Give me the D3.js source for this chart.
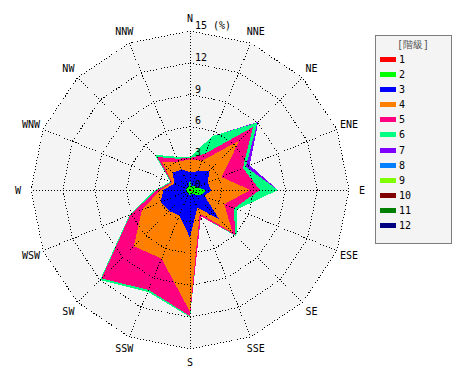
<!DOCTYPE html>
<html>
<head>
<meta charset="utf-8">
<script src="https://cdn.jsdelivr.net/npm/d3@7"></script>
<style>
  html, body { margin: 0; padding: 0; background: #ffffff; }
  svg { display: block; }
  text { font-family: "DejaVu Sans Mono", monospace; font-size: 10px; fill: #000; }
</style>
</head>
<body>
<svg id="chart" width="470" height="380"></svg>
<script>
const directions = ["N","NNE","NE","ENE","E","ESE","SE","SSE","S","SSW","SW","WSW","W","WNW","NW","NNW"];
const classLabels = ["1","2","3","4","5","6","7","8","9","10","11","12"];
const classColors = ["#ff0000","#00ff00","#0000ff","#ff8000","#ff0080","#00ff80","#8000ff","#0080ff","#80ff00","#800000","#008000","#000080"];
const ringTicks = [0, 3, 6, 9, 12, 15];

// frequency (%) per class, by direction N..NNW
const cls1  = [0.1,0.1,0.1,0.1,0.2,0.2,0.1,0.1,0.1,0.1,0.1,0.1,0.1,0.1,0.1,0.1];
const cls2  = [0.8,0.3,0.4,0.6,1.3,1.0,0.5,0.3,0.4,0.3,0.3,0.3,0.3,0.2,0.2,0.3];
const cls3  = [0.8,1.5,2.1,1.1,0.5,0.3,3.3,1.4,4.0,2.2,2.4,2.6,2.1,1.3,2.0,1.7];
const cls4  = [1.2,1.1,4.0,1.4,3.7,2.0,1.8,0.6,7.0,4.4,4.7,1.9,0.3,0.2,1.4,0.8];
const cls5  = [0.1,0.7,1.8,2.2,0.9,1.0,0.3,0.3,0.4,3.2,4.3,1.2,0.3,0.1,0.7,0.3];
const cls6  = [0.1,1.8,0.6,0.3,1.7,0.3,0.2,0.0,0.1,0.2,0.2,0.1,0.2,0.1,0.3,0.2];
const cls7  = [0,0,0.1,0.4,0,0,0,0,0,0,0,0,0,0,0,0];
const cls8  = [0,0,0,0,0,0,0,0,0,0,0,0,0,0,0,0];
const cls9  = [0,0,0,0,0,0,0,0,0,0,0,0,0,0,0,0];
const cls10 = [0,0,0,0,0,0,0,0,0,0,0,0,0,0,0,0];
const cls11 = [0,0,0,0,0,0,0,0,0,0,0,0,0,0,0,0];
const cls12 = [0,0,0,0,0,0,0,0,0,0,0,0,0,0,0,0];
const classValues = [cls1,cls2,cls3,cls4,cls5,cls6,cls7,cls8,cls9,cls10,cls11,cls12];

const svg = d3.select("#chart");
const cx = 190, cy = 190, R = 159;

const rScale = d3.scaleLinear().domain([0, 15]).range([0, R]);
const aScale = d3.scaleLinear().domain([0, directions.length]).range([0, 2 * Math.PI]);

const g = svg.append("g").attr("transform", `translate(${cx},${cy})`);

// stacked cumulative values
const table = directions.map((d, i) => {
  const row = { dir: d };
  classLabels.forEach((c, k) => row[c] = classValues[k][i]);
  return row;
});
const stacked = d3.stack().keys(classLabels)(table);

const ring = d3.lineRadial()
  .angle((d, i) => aScale(i))
  .radius(d => rScale(d))
  .curve(d3.curveLinearClosed);

// background polygon
g.append("path")
  .attr("d", ring(directions.map(() => 15)))
  .attr("fill", "#f4f4f4");

// data polygons, outermost first
for (let k = stacked.length - 1; k >= 0; k--) {
  g.append("path")
    .attr("d", ring(stacked[k].map(s => s[1])))
    .attr("fill", classColors[k])
    .attr("shape-rendering", "crispEdges");
}

// grid rings
ringTicks.filter(t => t > 0).forEach(t => {
  g.append("path")
    .attr("d", ring(directions.map(() => t)))
    .attr("fill", "none")
    .attr("stroke", "#000")
    .attr("stroke-width", 1)
    .attr("stroke-dasharray", "1,2")
    .attr("shape-rendering", "crispEdges");
});

// spokes
directions.forEach((d, i) => {
  const a = aScale(i);
  g.append("line")
    .attr("x1", 0).attr("y1", 0)
    .attr("x2", rScale(15) * Math.sin(a))
    .attr("y2", -rScale(15) * Math.cos(a))
    .attr("stroke", "#000")
    .attr("stroke-width", 1)
    .attr("stroke-dasharray", "1,2")
    .attr("shape-rendering", "crispEdges");
});

// ring labels
ringTicks.forEach(t => {
  g.append("text")
    .attr("x", 5)
    .attr("y", -rScale(t) - 2)
    .text(t === 15 ? "15 (%)" : String(t));
});

// direction labels
directions.forEach((d, i) => {
  const a = aScale(i);
  const rl = 172;
  g.append("text")
    .attr("x", rl * Math.sin(a))
    .attr("y", -rl * Math.cos(a))
    .attr("text-anchor", "middle")
    .attr("dominant-baseline", "central")
    .text(d);
});

// legend
const lg = svg.append("g");
lg.append("rect")
  .attr("x", 375.5).attr("y", 35.5)
  .attr("width", 76).attr("height", 208)
  .attr("fill", "#f4f4f4")
  .attr("stroke", "#000")
  .attr("stroke-dasharray", "1,1");
lg.append("text")
  .attr("x", 413).attr("y", 44)
  .attr("text-anchor", "middle")
  .attr("dominant-baseline", "central")
  .style("fill", "#555")
  .text("[階級]");
const ly = d3.scaleLinear().domain([0, 11]).range([59, 225]);
classLabels.forEach((c, k) => {
  lg.append("rect")
    .attr("x", 380).attr("y", Math.round(ly(k)) - 2)
    .attr("width", 16).attr("height", 5)
    .attr("fill", classColors[k]);
  lg.append("text")
    .attr("x", 399).attr("y", ly(k) + 0.5)
    .attr("dominant-baseline", "central")
    .text(c);
});
</script>
</body>
</html>
